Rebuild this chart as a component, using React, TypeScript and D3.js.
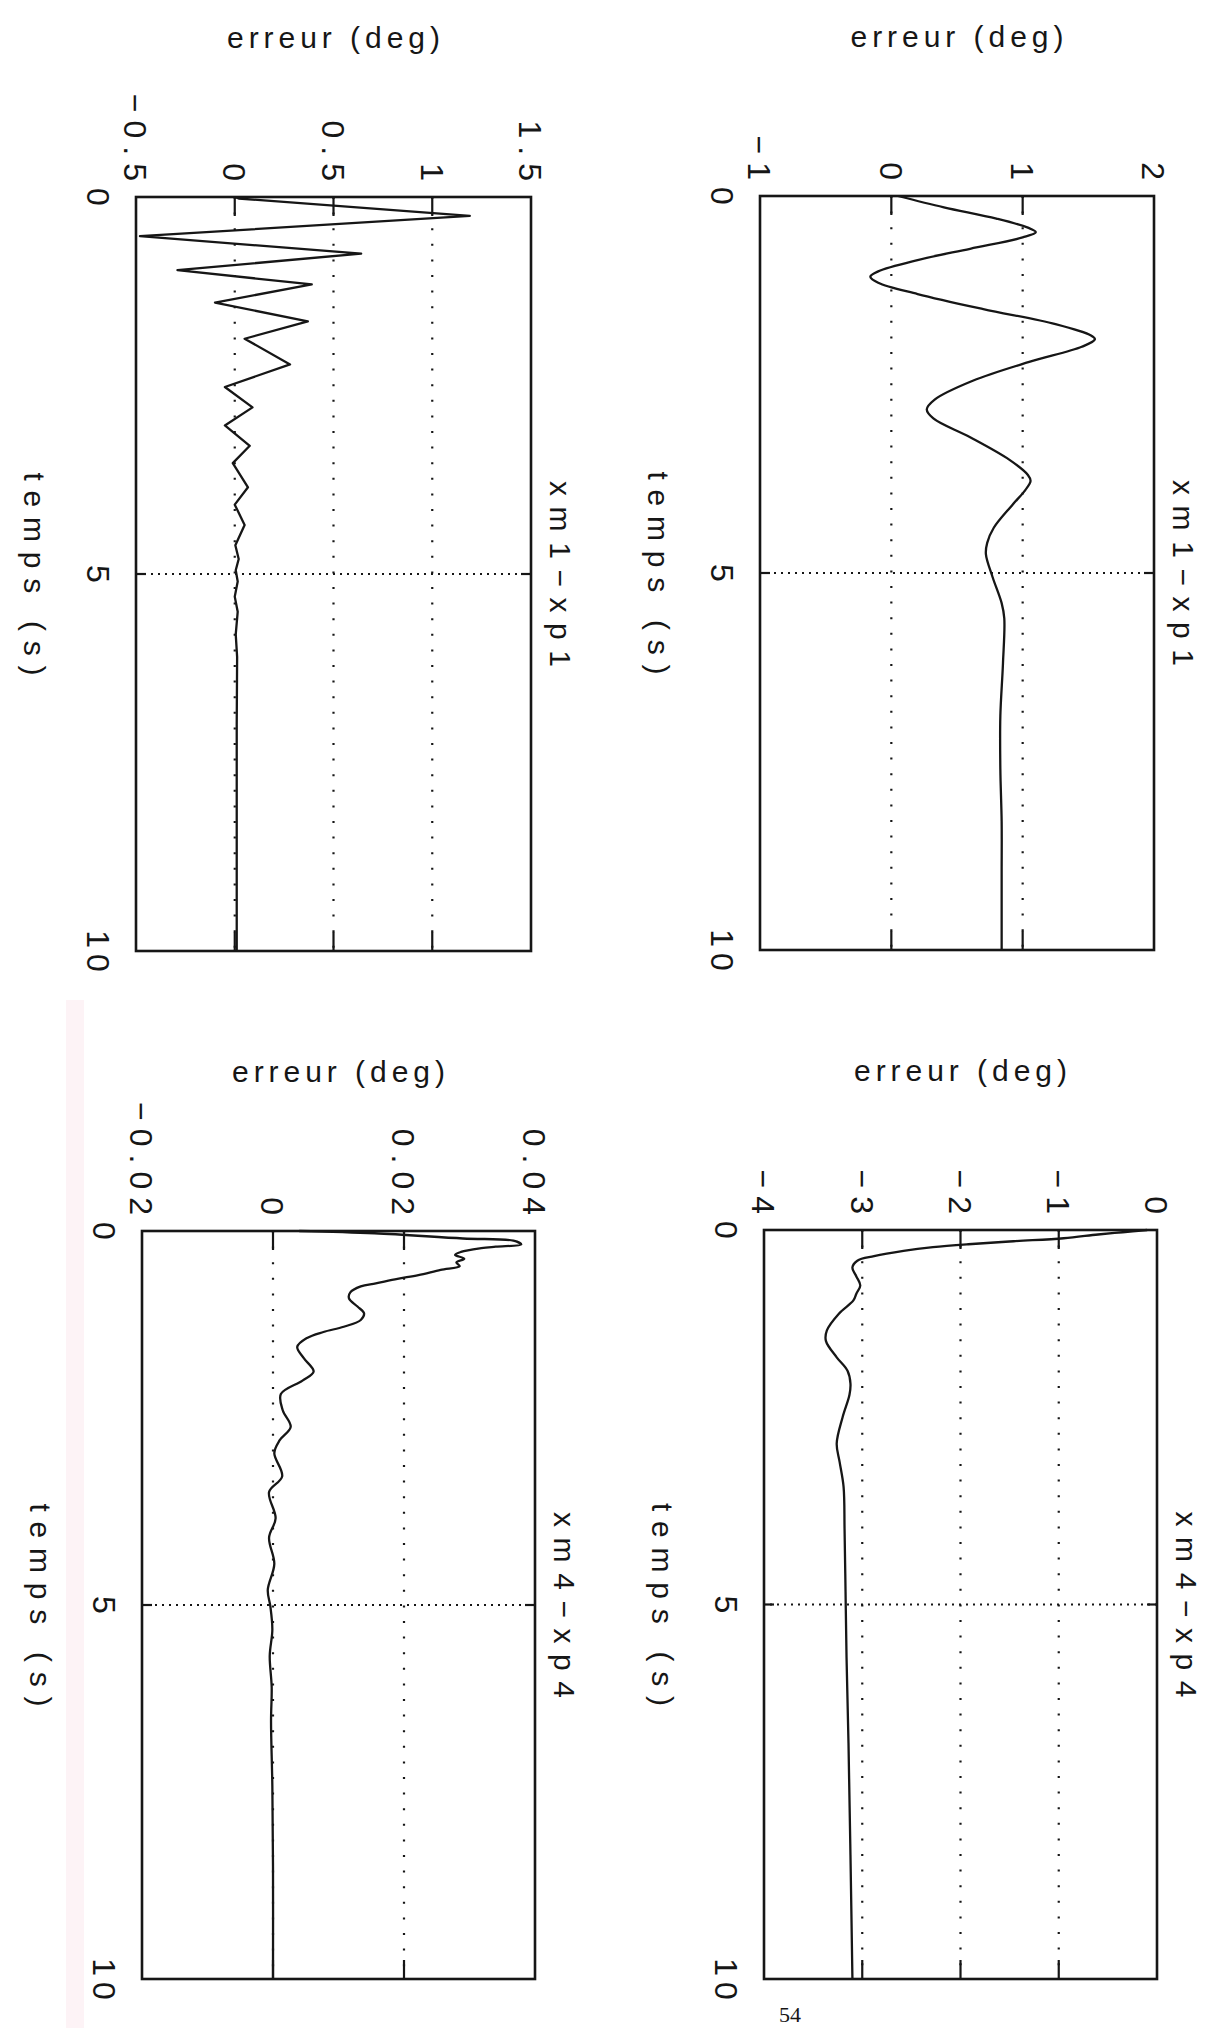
import React from "react";
import * as d3 from "d3";

// ---------- data (time in s, error in deg) ----------
const timeA = [0, 0.15, 0.3, 0.42, 0.48, 0.55, 0.7, 0.85, 1.0, 1.07, 1.15, 1.3, 1.5, 1.7, 1.85, 1.9, 2.0, 2.2, 2.45, 2.7, 2.83, 2.95, 3.2, 3.5, 3.7, 3.78, 3.9, 4.1, 4.4, 4.6, 4.75, 5.05, 5.4, 5.6, 6.2, 6.9, 7.6, 8.3, 9.0, 10];
const errA = [0.05, 0.4, 0.8, 1.04, 1.1, 1.0, 0.6, 0.2, -0.1, -0.16, -0.1, 0.2, 0.7, 1.25, 1.52, 1.55, 1.45, 1.05, 0.62, 0.33, 0.27, 0.32, 0.6, 0.9, 1.04, 1.06, 1.02, 0.92, 0.78, 0.73, 0.72, 0.77, 0.84, 0.86, 0.85, 0.83, 0.83, 0.84, 0.84, 0.84];

const timeB = [0, 0.02, 0.25, 0.52, 0.75, 0.97, 1.16, 1.4, 1.65, 1.88, 2.22, 2.52, 2.79, 3.03, 3.3, 3.53, 3.85, 4.08, 4.35, 4.62, 4.8, 4.95, 5.1, 5.3, 5.5, 5.8, 6.1, 7, 10];
const errB = [0.0, 0.02, 1.19, -0.48, 0.64, -0.29, 0.39, -0.1, 0.37, 0.05, 0.28, -0.05, 0.09, -0.05, 0.076, -0.01, 0.067, 0.0, 0.05, 0.003, 0.02, 0.005, 0.015, 0.0, 0.015, 0.005, 0.012, 0.01, 0.01];

const timeC = [0, 0.03, 0.06, 0.11, 0.15, 0.19, 0.23, 0.28, 0.35, 0.41, 0.5, 0.62, 0.74, 0.85, 0.94, 1.12, 1.34, 1.48, 1.7, 1.88, 2.05, 2.2, 2.5, 2.85, 3.1, 3.43, 4.0, 4.83, 5.7, 6.85, 8.34, 10];
const errC = [-0.1, -0.35, -0.6, -0.95, -1.46, -1.92, -2.28, -2.58, -2.88, -3.05, -3.1, -3.06, -3.02, -3.06, -3.09, -3.24, -3.36, -3.37, -3.26, -3.15, -3.12, -3.13, -3.2, -3.26, -3.23, -3.19, -3.18, -3.17, -3.16, -3.14, -3.12, -3.1];

const timeD = [0, 0.03, 0.1, 0.13, 0.18, 0.21, 0.23, 0.28, 0.32, 0.37, 0.42, 0.47, 0.52, 0.59, 0.64, 0.7, 0.74, 0.82, 0.9, 1.01, 1.1, 1.19, 1.28, 1.35, 1.43, 1.55, 1.7, 1.88, 2.0, 2.18, 2.4, 2.62, 2.8, 2.97, 3.28, 3.49, 3.84, 4.1, 4.45, 4.8, 5.02, 5.33, 5.68, 6.1, 6.55, 7.42, 8.5, 10];
const errD = [0.004, 0.0155, 0.029, 0.0367, 0.0379, 0.034, 0.0318, 0.0287, 0.0278, 0.0292, 0.028, 0.0285, 0.0256, 0.0222, 0.019, 0.0157, 0.0134, 0.0118, 0.0116, 0.0129, 0.0139, 0.0134, 0.0108, 0.0077, 0.0052, 0.0037, 0.0047, 0.0062, 0.0045, 0.0012, 0.0015, 0.0027, 0.001, 0.0002, 0.0014, -0.0006, 0.0004, -0.0006, 0.0002, -0.0008, -0.0004, -0.0001, -0.0005, -0.0002, -0.0003, -0.0001, 0.0, 0.0];

const timeTicks = [0, 5, 10];
const timeTickLabels = ["0", "5", "10"];
const ticksA = [-1, 0, 1, 2];
const labelsA = ["\u22121", "0", "1", "2"];
const ticksB = [-0.5, 0, 0.5, 1, 1.5];
const labelsB = ["\u22120.5", "0", "0.5", "1", "1.5"];
const ticksC = [-4, -3, -2, -1, 0];
const labelsC = ["\u22124", "\u22123", "\u22122", "\u22121", "0"];
const ticksD = [-0.02, 0, 0.02, 0.04];
const labelsD = ["\u22120.02", "0", "0.02", "0.04"];

const FONT = "'Liberation Sans', Arial, Helvetica, sans-serif";
const INK = "#161616";

type PanelProps = {
  left: number; right: number; top: number; bottom: number;
  domain: [number, number]; ticks: number[]; labels: string[];
  time: number[]; err: number[]; title: string; curve: d3.CurveFactory;
};

function Panel({ left, right, top, bottom, domain, ticks, labels, time, err, title, curve }: PanelProps) {
  const H = right - left; // value axis length (horizontal on page)
  const W = bottom - top; // time axis length (vertical on page)
  const x = d3.scaleLinear().domain([0, 10]).range([0, W]);
  const y = d3.scaleLinear().domain(domain).range([H, 0]);
  const line = d3.line<number>().x((_, i) => x(time[i])).y((d) => y(d)).curve(curve);
  const inner = ticks.filter((t) => t !== domain[0] && t !== domain[1]);
  const innerT = timeTicks.filter((t) => t !== 0 && t !== 10);
  return (
    <g transform={`translate(${right},${top}) rotate(90)`}>
      {inner.map((v) => (
        <line key={"gv" + v} x1={0} x2={W} y1={y(v)} y2={y(v)} stroke={INK} strokeWidth={2.2} strokeDasharray="2,13.6" />
      ))}
      {innerT.map((t) => (
        <line key={"gt" + t} x1={x(t)} x2={x(t)} y1={0} y2={H} stroke={INK} strokeWidth={1.8} strokeDasharray="2,5" />
      ))}
      <path d={line(err) || ""} fill="none" stroke={INK} strokeWidth={2.3} strokeLinejoin="round" />
      <rect x={0} y={0} width={W} height={H} fill="none" stroke={INK} strokeWidth={2.6} />
      {inner.map((v) => (
        <g key={"tk" + v}>
          <line x1={0} x2={19} y1={y(v)} y2={y(v)} stroke={INK} strokeWidth={2.2} />
          <line x1={W} x2={W - 19} y1={y(v)} y2={y(v)} stroke={INK} strokeWidth={2.2} />
        </g>
      ))}
      {innerT.map((t) => (
        <g key={"tt" + t}>
          <line x1={x(t)} x2={x(t)} y1={H} y2={H - 10} stroke={INK} strokeWidth={2.2} />
          <line x1={x(t)} x2={x(t)} y1={0} y2={10} stroke={INK} strokeWidth={2.2} />
        </g>
      ))}
      {ticks.map((v, i) => (
        <text key={"lv" + v} x={-8} y={y(v)} dy="0.36em" textAnchor="end" fontFamily={FONT} fontSize={32}
          letterSpacing={8} fill={INK}>{labels[i]}</text>
      ))}
      {timeTicks.map((t, i) => (
        <text key={"lt" + t} x={x(t) + 3} y={H + 49} textAnchor="middle" fontFamily={FONT} fontSize={32}
          letterSpacing={6} fill={INK}>{timeTickLabels[i]}</text>
      ))}
      <text x={W / 2} y={H + 112} textAnchor="middle" fontFamily={FONT} fontSize={30} textLength={203}
        lengthAdjust="spacing" fill={INK}>temps (s)</text>
      <text transform={`translate(${-149},${H / 2}) rotate(-90)`} textAnchor="middle" fontFamily={FONT}
        fontSize={30} textLength={213} lengthAdjust="spacing" fill={INK}>erreur (deg)</text>
      <text x={W / 2} y={-19} textAnchor="middle" fontFamily={FONT} fontSize={30} textLength={186}
        lengthAdjust="spacing" fill={INK}>{title}</text>
    </g>
  );
}

export default function App() {
  return (
    <svg width={1205} height={2028} viewBox="0 0 1205 2028"
      style={{ position: "absolute", left: 0, top: 0, background: "#fff" }}>
      <rect x={0} y={0} width={1205} height={2028} fill="#fff" />
      <rect x={66} y={1000} width={18} height={1028} fill="#fdf3f6" />
      <Panel left={760} right={1154} top={196} bottom={950} domain={[-1, 2]} ticks={ticksA} labels={labelsA}
        time={timeA} err={errA} title={"xm1\u2212xp1"} curve={d3.curveCatmullRom} />
      <Panel left={136} right={531} top={197} bottom={951} domain={[-0.5, 1.5]} ticks={ticksB} labels={labelsB}
        time={timeB} err={errB} title={"xm1\u2212xp1"} curve={d3.curveLinear} />
      <Panel left={764} right={1157} top={1230} bottom={1979} domain={[-4, 0]} ticks={ticksC} labels={labelsC}
        time={timeC} err={errC} title={"xm4\u2212xp4"} curve={d3.curveCatmullRom} />
      <Panel left={142} right={535} top={1231} bottom={1979} domain={[-0.02, 0.04]} ticks={ticksD} labels={labelsD}
        time={timeD} err={errD} title={"xm4\u2212xp4"} curve={d3.curveCatmullRom} />
      <text x={790} y={2022} textAnchor="middle" fontFamily="'Liberation Serif', serif" fontSize={22} fill={INK}>54</text>
    </svg>
  );
}
